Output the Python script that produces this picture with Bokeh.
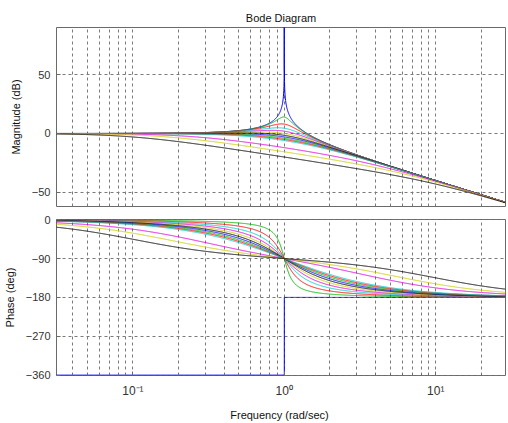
import numpy as np
from bokeh.plotting import figure
from bokeh.layouts import column
from bokeh.models import Range1d, FixedTicker
from bokeh.embed import file_html
from bokeh.resources import INLINE

# ---- data -----------------------------------------------------------------
# damping ratios of the second-order systems 1/(s^2 + 2*zeta*s + 1)
damping = [0.0, 0.1, 0.2, 0.3, 0.4, 0.5, 0.6, 0.7, 0.8, 0.9, 1.0, 2.0, 3.0, 5.0]
# MATLAB-style colour order b g r c m y k, cycled
color_order = ["#0000ff", "#00b800", "#ff0000", "#00cccc", "#dd00dd", "#cccc00", "#000000"]
line_colors = [color_order[i % len(color_order)] for i in range(len(damping))]

x_tick_values = [0.1, 1, 10]
x_tick_labels = ["10\u207b\u00b9", "10\u2070", "10\u00b9"]
mag_ticks = [-50, 0, 50]
phase_ticks = [-360, -270, -180, -90, 0]

freq_limits = (0.0313, 28.9)
mag_limits = (-62, 90)
phase_limits = (-361, 0.5)

title_text = "Bode Diagram"
mag_label = "Magnitude (dB)"
phase_label = "Phase (deg)"
freq_label = "Frequency  (rad/sec)"

# ---- sampling ---------------------------------------------------------------
w = np.logspace(np.log10(freq_limits[0]), np.log10(freq_limits[1]), 2500)
w = np.unique(np.concatenate([w, [1.0]]))

minor = [m * 10.0 ** e for e in (-2, -1, 0, 1) for m in range(2, 10)]
minor = [v for v in minor if freq_limits[0] <= v <= freq_limits[1]]

FONT = "Liberation Sans"
GRID = "#7a7a7a"
FRAME = "#6a6a6a"


def style(p, yticks, ylabel):
    p.background_fill_color = "white"
    p.border_fill_color = "white"
    p.outline_line_color = FRAME
    p.outline_line_width = 1
    tick = FixedTicker(ticks=x_tick_values, minor_ticks=minor)
    p.xaxis.ticker = tick
    p.xgrid.ticker = tick
    p.yaxis.ticker = FixedTicker(ticks=yticks)
    p.ygrid.ticker = FixedTicker(ticks=yticks)
    for g in (p.xgrid, p.ygrid):
        g.grid_line_color = GRID
        g.grid_line_dash = "3 3"
        g.grid_line_width = 1
    p.xgrid.minor_grid_line_color = GRID
    p.xgrid.minor_grid_line_dash = "3 3"
    for ax in (p.xaxis, p.yaxis):
        ax.axis_line_color = None
        ax.major_tick_in = 4
        ax.major_tick_out = 0
        ax.minor_tick_in = 2
        ax.minor_tick_out = 0
        ax.major_tick_line_color = FRAME
        ax.minor_tick_line_color = FRAME
        ax.major_label_text_font = FONT
        ax.major_label_text_font_size = "11px"
        ax.major_label_text_color = "#333333"
        ax.axis_label_text_font = FONT
        ax.axis_label_text_font_size = "11px"
        ax.axis_label_text_font_style = "normal"
        ax.axis_label_text_color = "#111111"
    p.yaxis.axis_label = ylabel
    p.yaxis.major_label_standoff = 6
    p.yaxis.axis_label_standoff = 7


# ---- magnitude panel --------------------------------------------------------
p1 = figure(width=508, height=212, x_axis_type="log",
            x_range=Range1d(*freq_limits), y_range=Range1d(*mag_limits),
            output_backend="svg", toolbar_location=None,
            min_border_left=55, min_border_right=3,
            min_border_top=27, min_border_bottom=6)
style(p1, mag_ticks, mag_label)
p1.xaxis.visible = False
p1.title.text = title_text
p1.title.align = "center"
p1.title.text_font = FONT
p1.title.text_font_size = "11px"
p1.title.text_font_style = "normal"
p1.title.text_color = "#111111"
p1.title.standoff = 8

# ---- phase panel ------------------------------------------------------------
p2 = figure(width=508, height=211, x_axis_type="log",
            x_range=p1.x_range, y_range=Range1d(*phase_limits),
            output_backend="svg", toolbar_location=None,
            min_border_left=55, min_border_right=3,
            min_border_top=7, min_border_bottom=46)
style(p2, phase_ticks, phase_label)
p2.xaxis.axis_label = freq_label
p2.xaxis.major_label_overrides = dict(zip(x_tick_values, x_tick_labels))
p2.xaxis.major_label_text_font_size = "12px"
p2.xaxis.major_label_standoff = 8
p2.xaxis.axis_label_standoff = 8

for zeta, col in zip(damping, line_colors):
    den = (1.0 - w ** 2) + 2j * zeta * w
    absden = np.abs(den)
    with np.errstate(divide="ignore"):
        mag = np.where(absden > 0, -20.0 * np.log10(np.where(absden > 0, absden, 1.0)), 1000.0)
    p1.line(w, mag, line_color=col, line_width=1)
    if zeta == 0:
        wl = w[w < 1.0]
        wr = w[w > 1.0]
        xs = np.concatenate([wl, [1.0, 1.0], wr])
        ys = np.concatenate([np.full(wl.size, -360.0), [-360.0, -180.0], np.full(wr.size, -180.0)])
    else:
        xs = w
        ys = -np.degrees(np.arctan2(2.0 * zeta * w, 1.0 - w ** 2))
    p2.line(xs, ys, line_color=col, line_width=1)

layout = column(p1, p2, spacing=0)
open("out.html", "w").write(file_html(layout, INLINE))
